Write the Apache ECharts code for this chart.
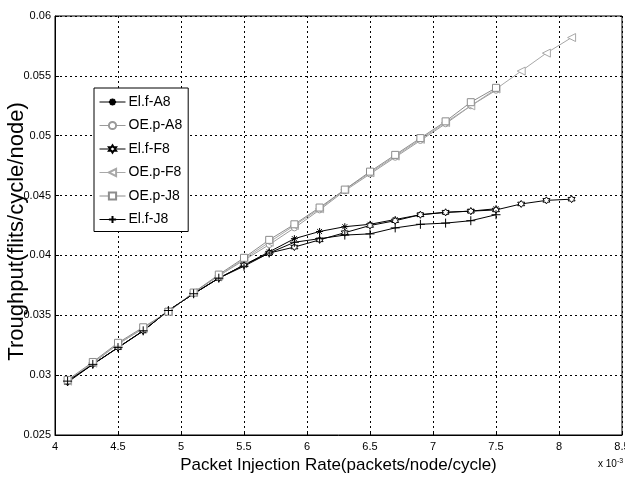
<!DOCTYPE html>
<html>
<head>
<meta charset="utf-8">
<script src="https://cdn.jsdelivr.net/npm/echarts@6/dist/echarts.min.js"></script>
<style>
  html, body { margin: 0; padding: 0; background: #fff; }
  #throughputChart { width: 625px; height: 479px; }
</style>
</head>
<body>
<div id="throughputChart"></div>
<script>
// injection rate (x 10^-3)
const rateLong = [4.1, 4.3, 4.5, 4.7, 4.9, 5.1, 5.3, 5.5, 5.7, 5.9, 6.1, 6.3, 6.5, 6.7, 6.9, 7.1, 7.3, 7.5, 7.7, 7.9, 8.1]
const rateShort = [4.1, 4.3, 4.5, 4.7, 4.9, 5.1, 5.3, 5.5, 5.7, 5.9, 6.1, 6.3, 6.5, 6.7, 6.9, 7.1, 7.3, 7.5]

const elfA8 = [0.0295, 0.0309, 0.0323, 0.0337, 0.0354, 0.0368, 0.0381, 0.0392, 0.0403, 0.0414, 0.0420, 0.0424, 0.0426, 0.0430, 0.0434, 0.0436, 0.0437, 0.0439]
const oepA8 = [0.0295, 0.0310, 0.0326, 0.0339, 0.0353, 0.0369, 0.0383, 0.0396, 0.0409, 0.0423, 0.0438, 0.0454, 0.0468, 0.0482, 0.0496, 0.0510, 0.0525, 0.0538]
const elfF8 = [0.0294, 0.0309, 0.0323, 0.0337, 0.0354, 0.0368, 0.0381, 0.0392, 0.0402, 0.0407, 0.0413, 0.0419, 0.0425, 0.0429, 0.0434, 0.0436, 0.0437, 0.0438, 0.0443, 0.0446, 0.0447]
const oepF8 = [0.0295, 0.0310, 0.0326, 0.0339, 0.0353, 0.0369, 0.0383, 0.0397, 0.0411, 0.0425, 0.0439, 0.0455, 0.0469, 0.0483, 0.0497, 0.0511, 0.0525, 0.0539, 0.0554, 0.0569, 0.0582]
const oepJ8 = [0.0296, 0.0311, 0.0327, 0.0340, 0.0353, 0.0369, 0.0384, 0.0398, 0.0413, 0.0426, 0.0440, 0.0455, 0.0470, 0.0484, 0.0498, 0.0512, 0.0528, 0.0540]
const elfJ8 = [0.0295, 0.0309, 0.0323, 0.0337, 0.0354, 0.0368, 0.0381, 0.0391, 0.0402, 0.0411, 0.0414, 0.0417, 0.0418, 0.0423, 0.0426, 0.0427, 0.0429, 0.0434]

const seriesNames = ['El.f-A8', 'OE.p-A8', 'El.f-F8', 'OE.p-F8', 'OE.p-J8', 'El.f-J8']

const starPath = 'path://M5,0L5,10M0,5L10,5M1.5,1.5L8.5,8.5M8.5,1.5L1.5,8.5'
const hexPath = 'path://M5,0L6.44,2.5L9.33,2.5L7.89,5L9.33,7.5L6.44,7.5L5,10L3.56,7.5L0.67,7.5L2.11,5L0.67,2.5L3.56,2.5Z'
const plusPath = 'path://M5,0L5,10M0,5L10,5'
const leftTriPath = 'path://M0,5L10,0L10,10Z'

function pairs (xs, ys) {
  return ys.map((y, i) => [xs[i], y])
}

function makeSeries (name, xs, ys, color, symbol, size, fill) {
  return {
    name: name,
    type: 'line',
    data: pairs(xs, ys),
    symbol: symbol,
    symbolSize: size,
    showAllSymbol: true,
    lineStyle: { color: color, width: 1 },
    itemStyle: { color: fill, borderColor: color, borderWidth: 1 },
    emphasis: { disabled: true },
    animation: false
  }
}

const charts = echarts.init(document.getElementById('throughputChart'))
const font = 'Liberation Sans, Arial, sans-serif'

const options = {
  backgroundColor: '#fff',
  grid: {
    left: 55,
    right: 3,
    top: 16,
    bottom: 44,
    containLabel: false,
    outerBoundsMode: 'none',
    show: true,
    borderColor: '#000',
    borderWidth: 1,
    backgroundColor: 'transparent'
  },
  legend: {
    orient: 'vertical',
    left: 94,
    top: 88,
    data: seriesNames,
    itemWidth: 26,
    itemHeight: 9,
    itemGap: 9.5,
    padding: [7, 6, 5, 5],
    backgroundColor: '#fff',
    borderColor: '#000',
    borderWidth: 1,
    borderRadius: 0,
    lineStyle: { width: 1 },
    textStyle: { fontFamily: font, fontSize: 14, color: '#000', padding: [0, 0, 0, -2] }
  },
  xAxis: {
    type: 'value',
    min: 4,
    max: 8.5,
    interval: 0.5,
    name: 'Packet Injection Rate(packets/node/cycle)',
    nameLocation: 'middle',
    nameGap: 22,
    nameMoveOverlap: false,
    nameTextStyle: { fontFamily: font, fontSize: 17, color: '#000', verticalAlign: 'top' },
    axisLine: { show: true, onZero: false, lineStyle: { color: '#000', width: 1 } },
    axisTick: { show: true, inside: true, length: 4, lineStyle: { color: '#000' } },
    axisLabel: { fontFamily: font, fontSize: 11, color: '#000', margin: 6, showMaxLabel: true },
    splitLine: { show: true, lineStyle: { color: '#000', width: 1, type: [2, 3] } }
  },
  yAxis: {
    type: 'value',
    min: 0.025,
    max: 0.06,
    interval: 0.005,
    name: 'Troughput(flits/cycle/node)',
    nameLocation: 'middle',
    nameGap: 27,
    nameMoveOverlap: false,
    nameTextStyle: { fontFamily: font, fontSize: 22, color: '#000', padding: [0, 12, 0, 0] },
    axisLine: { show: true, onZero: false, lineStyle: { color: '#000', width: 1 } },
    axisTick: { show: true, inside: true, length: 4, lineStyle: { color: '#000' } },
    axisLabel: { fontFamily: font, fontSize: 11, color: '#000', margin: 4 },
    splitLine: { show: true, lineStyle: { color: '#000', width: 1, type: [2, 3] } }
  },
  graphic: [
    {
      type: 'text',
      left: 598,
      top: 458,
      style: {
        text: '{a|x 10}{b|-3}',
        rich: {
          a: { fontFamily: font, fontSize: 10, fill: '#000' },
          b: { fontFamily: font, fontSize: 7, fill: '#000', verticalAlign: 'top', padding: [0, 0, 6, 0] }
        }
      }
    }
  ],
  series: [
    makeSeries('El.f-A8', rateShort, elfA8, '#000', starPath, 7, '#000'),
    makeSeries('OE.p-A8', rateShort, oepA8, '#9a9a9a', 'circle', 6, '#fff'),
    makeSeries('El.f-F8', rateLong, elfF8, '#000', hexPath, 7, '#fff'),
    makeSeries('OE.p-F8', rateLong, oepF8, '#a8a8a8', leftTriPath, 8, '#fff'),
    makeSeries('OE.p-J8', rateShort, oepJ8, '#8c8c8c', 'rect', 7, '#fff'),
    makeSeries('El.f-J8', rateShort, elfJ8, '#000', plusPath, 9, '#000')
  ]
}
charts.setOption(options)
</script>
</body>
</html>
